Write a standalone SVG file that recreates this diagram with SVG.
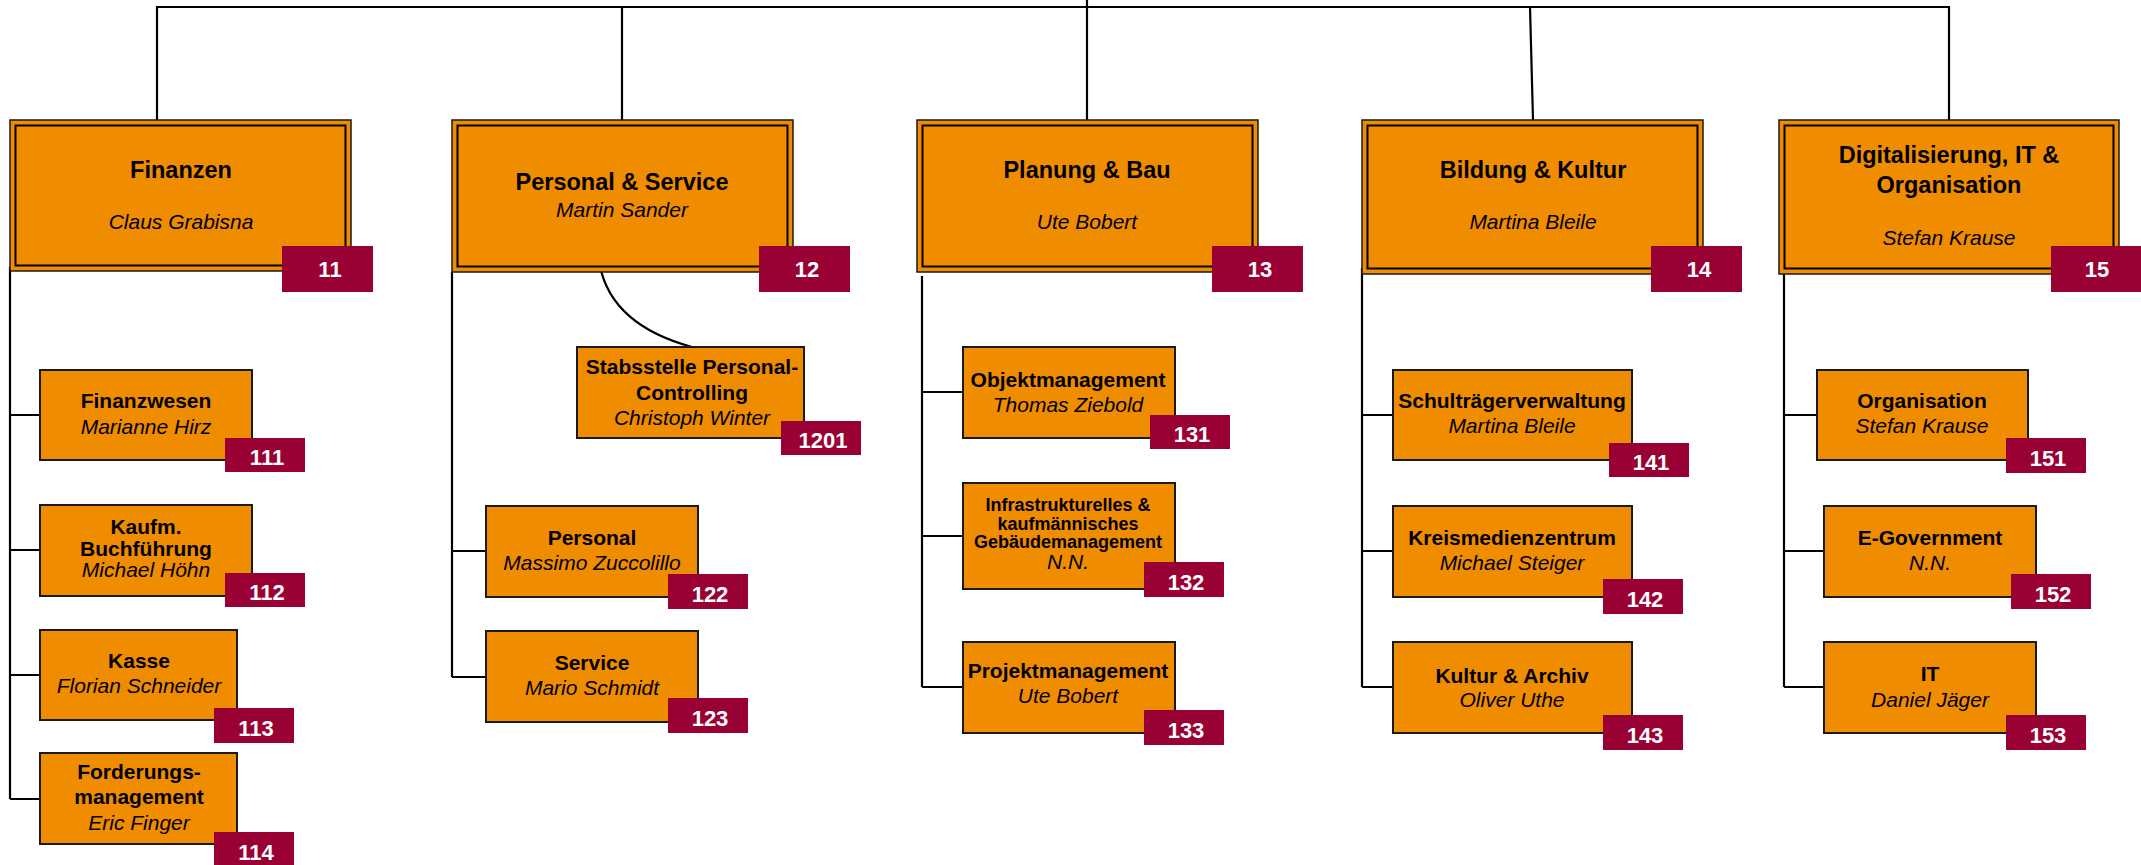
<svg xmlns="http://www.w3.org/2000/svg" width="2141" height="865" viewBox="0 0 2141 865">
<style>
.bg{fill:#ffffff}
.main{fill:#F08C00;stroke:#1a1a1a;stroke-width:1.5}
.inner{fill:none;stroke:#000;stroke-width:2}
.box{fill:#F08C00;stroke:#1a1a1a;stroke-width:2}
.badge{fill:#990033}
.conn{fill:none;stroke:#000;stroke-width:2.2}
text{font-family:"Liberation Sans",Arial,sans-serif;fill:#000;text-anchor:middle}
.mt{font-size:23.5px;font-weight:bold}
.st{font-size:21px;font-weight:bold}
.st2{font-size:18px;font-weight:bold}
.nm{font-size:21px;font-style:italic}
.bt{font-size:22px;font-weight:bold;fill:#fff}
</style>
<rect class="bg" x="0" y="0" width="2141" height="865"/>
<g id="connectors">
<path class="conn" d="M157,120 V7 H1949 V120"/>
<path class="conn" d="M622,7 V120"/>
<path class="conn" d="M1087,0 V120"/>
<path class="conn" d="M1530,7 L1533,120"/>
<path class="conn" d="M10,267 V799 M10,415 H40 M10,550 H40 M10,675 H40 M10,799 H40"/>
<path class="conn" d="M452,272 V677 M452,551 H486 M452,677 H486"/>
<path class="conn" d="M600,266 Q612,325 692,347"/>
<path class="conn" d="M922,276 V687 M922,392 H963 M922,536 H963 M922,687 H963"/>
<path class="conn" d="M1362,268 V687 M1362,415 H1393 M1362,551 H1393 M1362,687 H1393"/>
<path class="conn" d="M1784,268 V687 M1784,415 H1817 M1784,551 H1824 M1784,687 H1824"/>
</g>
<g id="n11">
<rect class="main" x="10" y="120" width="341" height="151"/>
<rect class="inner" x="15.5" y="125.5" width="330" height="140"/>
<text class="mt" x="181" y="178">Finanzen</text>
<text class="nm" x="181" y="229">Claus Grabisna</text>
<rect class="badge" x="282" y="246" width="91" height="46"/>
<text class="bt" x="330" y="277">11</text>
</g>
<g id="n12">
<rect class="main" x="452" y="120" width="341" height="152"/>
<rect class="inner" x="457.5" y="125.5" width="330" height="141"/>
<text class="mt" x="622" y="190">Personal &amp; Service</text>
<text class="nm" x="622" y="217">Martin Sander</text>
<rect class="badge" x="759" y="246" width="91" height="46"/>
<text class="bt" x="807" y="277">12</text>
</g>
<g id="n13">
<rect class="main" x="917" y="120" width="341" height="152"/>
<rect class="inner" x="922.5" y="125.5" width="330" height="141"/>
<text class="mt" x="1087" y="178">Planung &amp; Bau</text>
<text class="nm" x="1087" y="229">Ute Bobert</text>
<rect class="badge" x="1212" y="246" width="91" height="46"/>
<text class="bt" x="1260" y="277">13</text>
</g>
<g id="n14">
<rect class="main" x="1362" y="120" width="341" height="154"/>
<rect class="inner" x="1367.5" y="125.5" width="330" height="143"/>
<text class="mt" x="1533" y="178">Bildung &amp; Kultur</text>
<text class="nm" x="1533" y="229">Martina Bleile</text>
<rect class="badge" x="1651" y="246" width="91" height="46"/>
<text class="bt" x="1699" y="277">14</text>
</g>
<g id="n15">
<rect class="main" x="1779" y="120" width="340" height="154"/>
<rect class="inner" x="1784.5" y="125.5" width="329" height="143"/>
<text class="mt" x="1949" y="163">Digitalisierung, IT &amp;</text>
<text class="mt" x="1949" y="193">Organisation</text>
<text class="nm" x="1949" y="245">Stefan Krause</text>
<rect class="badge" x="2051" y="246" width="90" height="46"/>
<text class="bt" x="2097" y="277">15</text>
</g>
<g id="n111">
<rect class="box" x="40" y="370" width="212" height="90"/>
<text class="st" x="146" y="408">Finanzwesen</text>
<text class="nm" x="146" y="434">Marianne Hirz</text>
<rect class="badge" x="225" y="438" width="80" height="34"/>
<text class="bt" x="267" y="465">111</text>
</g>
<g id="n112">
<rect class="box" x="40" y="505" width="212" height="91"/>
<text class="st" x="146" y="534">Kaufm.</text>
<text class="st" x="146" y="556">Buchführung</text>
<text class="nm" x="146" y="577">Michael Höhn</text>
<rect class="badge" x="225" y="573" width="80" height="34"/>
<text class="bt" x="267" y="600">112</text>
</g>
<g id="n113">
<rect class="box" x="40" y="630" width="197" height="90"/>
<text class="st" x="139" y="668">Kasse</text>
<text class="nm" x="139" y="693">Florian Schneider</text>
<rect class="badge" x="214" y="708" width="80" height="35"/>
<text class="bt" x="256" y="736">113</text>
</g>
<g id="n114">
<rect class="box" x="40" y="753" width="197" height="91"/>
<text class="st" x="139" y="779">Forderungs-</text>
<text class="st" x="139" y="804">management</text>
<text class="nm" x="139" y="830">Eric Finger</text>
<rect class="badge" x="214" y="832" width="80" height="35"/>
<text class="bt" x="256" y="860">114</text>
</g>
<g id="n1201">
<rect class="box" x="577" y="347" width="227" height="91"/>
<text class="st" x="692" y="374">Stabsstelle Personal-</text>
<text class="st" x="692" y="400">Controlling</text>
<text class="nm" x="692" y="425">Christoph Winter</text>
<rect class="badge" x="781" y="421" width="80" height="34"/>
<text class="bt" x="823" y="448">1201</text>
</g>
<g id="n122">
<rect class="box" x="486" y="506" width="212" height="91"/>
<text class="st" x="592" y="545">Personal</text>
<text class="nm" x="592" y="570">Massimo Zuccolillo</text>
<rect class="badge" x="668" y="574" width="80" height="35"/>
<text class="bt" x="710" y="602">122</text>
</g>
<g id="n123">
<rect class="box" x="486" y="631" width="212" height="91"/>
<text class="st" x="592" y="670">Service</text>
<text class="nm" x="592" y="695">Mario Schmidt</text>
<rect class="badge" x="668" y="698" width="80" height="35"/>
<text class="bt" x="710" y="726">123</text>
</g>
<g id="n131">
<rect class="box" x="963" y="347" width="212" height="91"/>
<text class="st" x="1068" y="387">Objektmanagement</text>
<text class="nm" x="1068" y="412">Thomas Ziebold</text>
<rect class="badge" x="1150" y="415" width="80" height="34"/>
<text class="bt" x="1192" y="442">131</text>
</g>
<g id="n132">
<rect class="box" x="963" y="483" width="212" height="106"/>
<text class="st2" x="1068" y="511">Infrastrukturelles &amp;</text>
<text class="st2" x="1068" y="530">kaufmännisches</text>
<text class="st2" x="1068" y="548">Gebäudemanagement</text>
<text class="nm" x="1068" y="569">N.N.</text>
<rect class="badge" x="1144" y="562" width="80" height="35"/>
<text class="bt" x="1186" y="590">132</text>
</g>
<g id="n133">
<rect class="box" x="963" y="642" width="212" height="91"/>
<text class="st" x="1068" y="678">Projektmanagement</text>
<text class="nm" x="1068" y="703">Ute Bobert</text>
<rect class="badge" x="1144" y="710" width="80" height="35"/>
<text class="bt" x="1186" y="738">133</text>
</g>
<g id="n141">
<rect class="box" x="1393" y="370" width="239" height="90"/>
<text class="st" x="1512" y="408">Schulträgerverwaltung</text>
<text class="nm" x="1512" y="433">Martina Bleile</text>
<rect class="badge" x="1609" y="443" width="80" height="34"/>
<text class="bt" x="1651" y="470">141</text>
</g>
<g id="n142">
<rect class="box" x="1393" y="506" width="239" height="91"/>
<text class="st" x="1512" y="545">Kreismedienzentrum</text>
<text class="nm" x="1512" y="570">Michael Steiger</text>
<rect class="badge" x="1603" y="579" width="80" height="35"/>
<text class="bt" x="1645" y="607">142</text>
</g>
<g id="n143">
<rect class="box" x="1393" y="642" width="239" height="91"/>
<text class="st" x="1512" y="683">Kultur &amp; Archiv</text>
<text class="nm" x="1512" y="707">Oliver Uthe</text>
<rect class="badge" x="1603" y="715" width="80" height="35"/>
<text class="bt" x="1645" y="743">143</text>
</g>
<g id="n151">
<rect class="box" x="1817" y="370" width="211" height="90"/>
<text class="st" x="1922" y="408">Organisation</text>
<text class="nm" x="1922" y="433">Stefan Krause</text>
<rect class="badge" x="2006" y="438" width="80" height="35"/>
<text class="bt" x="2048" y="466">151</text>
</g>
<g id="n152">
<rect class="box" x="1824" y="506" width="212" height="91"/>
<text class="st" x="1930" y="545">E-Government</text>
<text class="nm" x="1930" y="570">N.N.</text>
<rect class="badge" x="2011" y="574" width="80" height="35"/>
<text class="bt" x="2053" y="602">152</text>
</g>
<g id="n153">
<rect class="box" x="1824" y="642" width="212" height="91"/>
<text class="st" x="1930" y="681">IT</text>
<text class="nm" x="1930" y="707">Daniel Jäger</text>
<rect class="badge" x="2006" y="715" width="80" height="35"/>
<text class="bt" x="2048" y="743">153</text>
</g>
</svg>
